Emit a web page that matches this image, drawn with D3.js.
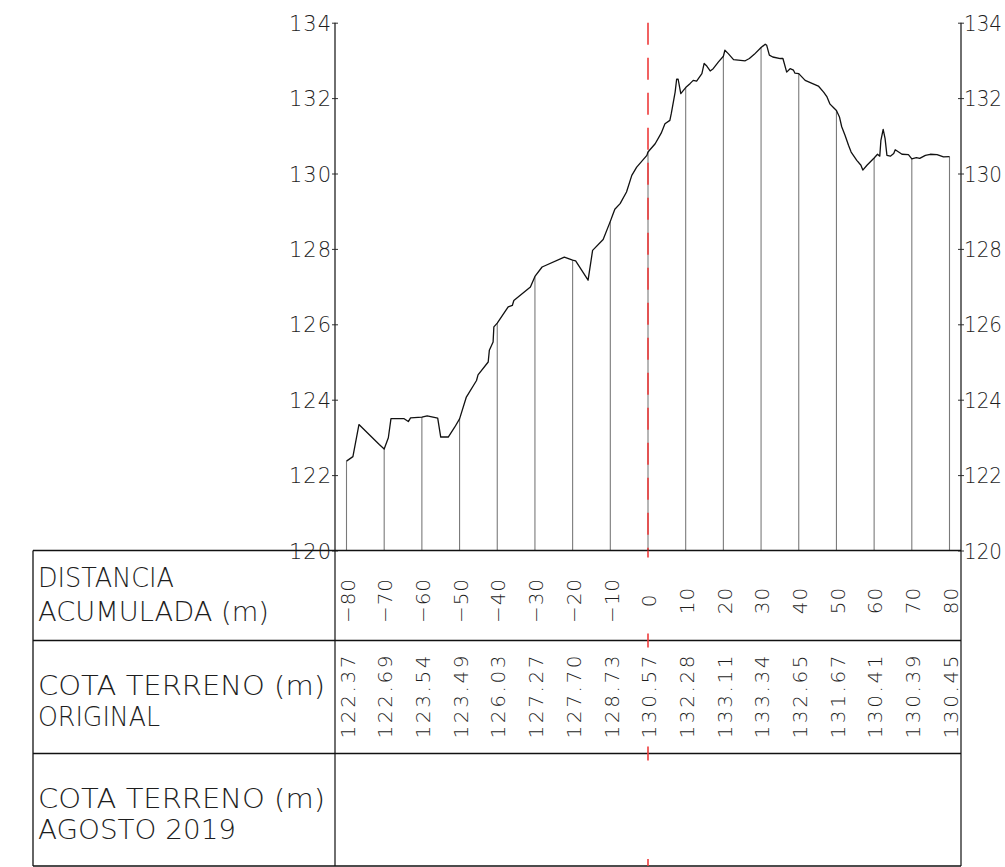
<!DOCTYPE html>
<html>
<head>
<meta charset="utf-8">
<script src="https://cdn.jsdelivr.net/npm/d3@7"></script>
<style>
  html, body { margin: 0; padding: 0; background: #fff; }
  svg { display: block; }
  text { font-family: "DejaVu Sans", sans-serif; font-weight: 200; fill: #1e1e1e; }
</style>
</head>
<body>
<svg id="chart" width="1005" height="867"></svg>
<script>
// Terrain profile: accumulated distance (m) and ground elevation (m)
const profileDist = [-80, -78.3, -76.7, -71.3, -70, -68.9, -68.2, -64.8, -63.6, -63.0, -60, -58.6, -55.8, -55.0,
  -53.0, -51.3, -50, -48.2, -45.5, -45.1, -42.4, -42.1, -41.1, -40.9, -40, -37.1, -36.0, -35.6, -31.2, -30,
  -28.1, -22.2, -20, -19.2, -15.9, -14.7, -11.9, -10, -9.4, -8.8, -7.4, -5.7, -4.3, -3.0, -0.3, 0,
  1.9, 3.5, 4.5, 5.8, 6.2, 7.2, 7.6, 8.0, 8.7, 10, 11.2, 12.0, 12.9, 14.3, 14.9, 15.6, 16.5, 17.3, 18.7, 20,
  20.4, 21.3, 22.7, 25.8, 26.9, 28.2, 30, 31.1, 31.5, 32.2, 33.1, 35.1, 35.8, 36.8, 37.7, 38.6, 39.0, 40,
  41.7, 45.2, 46.6, 47.5, 48.3, 49.2, 50, 50.8, 51.4, 52.3, 53.2, 53.9, 55.4, 56.5, 57.0, 58.1, 60,
  60.9, 61.5, 61.8, 62.4, 62.9, 63.4, 64.3, 65.2, 65.6, 66.5, 67.4, 69.1, 70, 71.2, 72.1, 73.6, 74.9, 76.7, 78.4, 80];
const profileElev = [122.37, 122.49, 123.34, 122.81, 122.69, 122.99, 123.50, 123.50, 123.42, 123.52, 123.54, 123.57, 123.51, 123.01,
  123.01, 123.27, 123.49, 124.07, 124.51, 124.66, 125.00, 125.31, 125.53, 125.93, 126.03, 126.46, 126.50, 126.63, 126.99, 127.27,
  127.52, 127.78, 127.70, 127.68, 127.17, 127.96, 128.25, 128.73, 128.89, 129.05, 129.20, 129.51, 129.95, 130.17, 130.48, 130.57,
  130.79, 131.07, 131.32, 131.41, 131.60, 132.16, 132.50, 132.50, 132.12, 132.28, 132.39, 132.47, 132.45, 132.65, 132.92, 132.85, 132.72, 132.78, 132.96, 133.11,
  133.27, 133.18, 133.02, 132.99, 133.05, 133.16, 133.34, 133.43, 133.40, 133.14, 133.09, 133.05, 133.05, 132.69, 132.78, 132.74, 132.66, 132.65,
  132.47, 132.32, 132.16, 132.03, 131.84, 131.75, 131.67, 131.50, 131.24, 131.01, 130.75, 130.57, 130.35, 130.22, 130.09, 130.22, 130.41,
  130.51, 130.46, 130.88, 131.17, 130.93, 130.48, 130.46, 130.53, 130.63, 130.57, 130.51, 130.50, 130.39, 130.42, 130.40, 130.48, 130.51, 130.50, 130.44, 130.45];

// Stations every 10 m and their original ground elevation
const stations = [-80, -70, -60, -50, -40, -30, -20, -10, 0, 10, 20, 30, 40, 50, 60, 70, 80];
const stationElev = [122.37, 122.69, 123.54, 123.49, 126.03, 127.27, 127.70, 128.73, 130.57,
  132.28, 133.11, 133.34, 132.65, 131.67, 130.41, 130.39, 130.45];

const yTicks = [120, 122, 124, 126, 128, 130, 132, 134];

const rowTitles = [
  ["DISTANCIA", "ACUMULADA  (m)"],
  ["COTA TERRENO  (m)", "ORIGINAL"],
  ["COTA TERRENO  (m)", "AGOSTO 2019"]
];

const svg = d3.select("#chart");

const x = d3.scaleLinear().domain([-80, 80]).range([346.5, 949.5]);
const y = d3.scaleLinear().domain([120, 134]).range([550.5, 22.7]);

const axisLeftX = 335, axisRightX = 961;
const tableLeft = 33;
const rowLines = [550.5, 640.5, 753.5, 866];
const bottom = 866;

// station verticals
svg.append("g").selectAll("line").data(stations).join("line")
  .attr("x1", d => x(d)).attr("x2", d => x(d))
  .attr("y1", (d, i) => y(stationElev[i])).attr("y2", y(120))
  .attr("stroke", "#7a7a7a").attr("stroke-width", 1.1);

// centre line (station 0), dashed
svg.append("line")
  .attr("x1", x(0)).attr("x2", x(0))
  .attr("y1", y(134)).attr("y2", y(120))
  .attr("stroke", "#ee3b3b").attr("stroke-width", 1.6)
  .attr("stroke-dasharray", "22,13");

// ground profile
const line = d3.line()
  .x(d => x(d[0])).y(d => y(d[1]));
svg.append("path")
  .datum(d3.zip(profileDist, profileElev))
  .attr("d", line)
  .attr("fill", "none").attr("stroke", "#111").attr("stroke-width", 1.3)
  .attr("stroke-linejoin", "round");

// elevation axes, both sides
const fmtTick = d3.format("d");
const leftAxis = d3.axisLeft(y).tickValues(yTicks).tickFormat(fmtTick)
  .tickSizeInner(3).tickSizeOuter(0).tickPadding(1);
const gl = svg.append("g").attr("transform", `translate(${axisLeftX},0)`).call(leftAxis);
const rightAxis = d3.axisRight(y).tickValues(yTicks).tickFormat(fmtTick)
  .tickSizeInner(3).tickSizeOuter(0).tickPadding(0);
const gr = svg.append("g").attr("transform", `translate(${axisRightX},0)`).call(rightAxis);

[gl, gr].forEach(g => {
  g.select(".domain").remove();
  g.selectAll(".tick line").attr("x1", -3).attr("x2", 3).attr("stroke", "#333");
  g.selectAll(".tick text")
    .attr("font-size", 21)
    .attr("font-family", "DejaVu Sans").attr("fill", "#1e1e1e")
    .attr("dy", "0.36em");
});
gl.selectAll(".tick text").attr("textLength", 42).attr("lengthAdjust", "spacing");
gr.selectAll(".tick text").attr("textLength", 38).attr("lengthAdjust", "spacingAndGlyphs");

// axis lines run down through the table
svg.append("line").attr("x1", axisLeftX).attr("x2", axisLeftX)
  .attr("y1", y(134)).attr("y2", bottom).attr("stroke", "#222").attr("stroke-width", 1.3);
svg.append("line").attr("x1", axisRightX).attr("x2", axisRightX)
  .attr("y1", y(134)).attr("y2", bottom).attr("stroke", "#222").attr("stroke-width", 1.3);

// table grid
svg.append("g").selectAll("line").data(rowLines).join("line")
  .attr("x1", tableLeft).attr("x2", axisRightX)
  .attr("y1", d => d).attr("y2", d => d)
  .attr("stroke", "#111").attr("stroke-width", 1.3);
svg.append("line").attr("x1", tableLeft).attr("x2", tableLeft)
  .attr("y1", rowLines[0]).attr("y2", bottom).attr("stroke", "#111").attr("stroke-width", 1.3);

// centre line marks across the table
svg.append("g").selectAll("line").data(rowLines).join("line")
  .attr("x1", x(0)).attr("x2", x(0))
  .attr("y1", d => Math.max(d - 7, rowLines[0])).attr("y2", d => Math.min(d + 7, bottom))
  .attr("stroke", "#ee3b3b").attr("stroke-width", 1.6);

// row titles
const titleWidths = [[136, 231], [287, 122], [287, 198]];
const titleBase = [[587, 621], [695, 726], [808, 839]];
rowTitles.forEach((lines, r) => {
  lines.forEach((t, k) => {
    svg.append("text")
      .attr("x", 38).attr("y", titleBase[r][k])
      .attr("font-size", 26)
      .attr("textLength", titleWidths[r][k]).attr("lengthAdjust", "spacingAndGlyphs")
      .text(t);
  });
});

// distance labels
const fmtDist = d3.format("d");
svg.append("g").selectAll("text").data(stations).join("text")
  .attr("transform", d => `translate(${x(d) + 1},${(rowLines[0] + rowLines[1]) / 2 + 5}) rotate(-90)`)
  .attr("text-anchor", "middle").attr("dy", "0.36em")
  .attr("font-size", 20).attr("letter-spacing", 1)
  .text(d => fmtDist(d));

// elevation labels
const fmtElev = d3.format(".2f");
svg.append("g").selectAll("text").data(stationElev).join("text")
  .attr("transform", (d, i) => `translate(${x(stations[i]) + 1},${(rowLines[1] + rowLines[2]) / 2}) rotate(-90)`)
  .attr("text-anchor", "middle").attr("dy", "0.36em")
  .attr("font-size", 20).attr("textLength", 83).attr("lengthAdjust", "spacing")
  .text(d => fmtElev(d));
</script>
</body>
</html>
